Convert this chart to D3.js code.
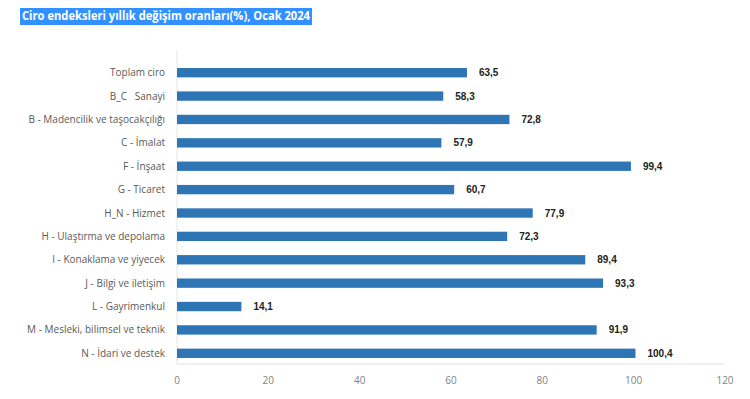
<!DOCTYPE html>
<html lang="tr">
<head>
<meta charset="utf-8">
<title>Ciro endeksleri</title>
<script src="https://d3js.org/d3.v7.min.js"></script>
<style>
  body { margin: 0; background: #fff; }
</style>
</head>
<body>
<script>
// chart size
var w = 750;
var h = 399;

var categories = [
  "Toplam ciro",
  "B_C   Sanayi",
  "B - Madencilik ve taşocakçılığı",
  "C - İmalat",
  "F - İnşaat",
  "G - Ticaret",
  "H_N - Hizmet",
  "H - Ulaştırma ve depolama",
  "I - Konaklama ve yiyecek",
  "J - Bilgi ve iletişim",
  "L - Gayrimenkul",
  "M - Mesleki, bilimsel ve teknik",
  "N - İdari ve destek"
];
var values = [63.5, 58.3, 72.8, 57.9, 99.4, 60.7, 77.9, 72.3, 89.4, 93.3, 14.1, 91.9, 100.4];
var xTicks = [0, 20, 40, 60, 80, 100, 120];
var title = "Ciro endeksleri yıllık değişim oranları(%), Ocak 2024";

var margin = {left: 177, right: 25, top: 61, bottom: 35};

var svg = d3.select("body").append("svg")
  .attr("width", w)
  .attr("height", h);

var xScale = d3.scaleLinear()
  .domain([0, 120])
  .range([margin.left, w - margin.right]);

var yScale = d3.scaleBand()
  .domain(categories)
  .range([margin.top, h - margin.bottom + 1])
  .paddingInner(0.6)
  .paddingOuter(0.3);

// title with highlight box
var titleG = svg.append("g");
titleG.append("rect")
  .attr("x", 20).attr("y", 8)
  .attr("width", 292).attr("height", 17)
  .attr("fill", "#3390ff");
titleG.append("text")
  .attr("x", 22)
  .attr("y", 20)
  .attr("font-family", "'Open Sans', sans-serif")
  .attr("font-weight", "bold")
  .attr("font-size", "12px")
  .attr("fill", "#fff")
  .attr("textLength", 288)
  .attr("lengthAdjust", "spacingAndGlyphs")
  .text(title);

// axis lines
svg.append("line")
  .attr("x1", xScale(0)).attr("x2", xScale(0))
  .attr("y1", margin.top - 10).attr("y2", h - margin.bottom)
  .attr("stroke", "#e6e6e6");
svg.append("line")
  .attr("x1", xScale(0)).attr("x2", xScale(120))
  .attr("y1", h - margin.bottom).attr("y2", h - margin.bottom)
  .attr("stroke", "#e0e0e0");

// bars
svg.selectAll("rect.bar")
  .data(values)
  .enter()
  .append("rect")
  .attr("class", "bar")
  .attr("x", xScale(0))
  .attr("y", function(d, i) { return yScale(categories[i]); })
  .attr("width", function(d) { return xScale(d) - xScale(0); })
  .attr("height", yScale.bandwidth())
  .attr("fill", "#2e75b6");

// value labels
svg.selectAll("text.val")
  .data(values)
  .enter()
  .append("text")
  .attr("class", "val")
  .attr("x", function(d) { return xScale(d) + 12; })
  .attr("y", function(d, i) { return yScale(categories[i]) + yScale.bandwidth() / 2; })
  .attr("dy", "0.35em")
  .attr("font-family", "'Liberation Sans', Arial, sans-serif")
  .attr("font-weight", "bold")
  .attr("font-size", "10px")
  .attr("fill", "#222")
  .text(function(d) { return d3.format(".1f")(d).replace(".", ","); });

// category labels
svg.selectAll("text.cat")
  .data(categories)
  .enter()
  .append("text")
  .attr("class", "cat")
  .attr("x", 165)
  .attr("y", function(d) { return yScale(d) + yScale.bandwidth() / 2; })
  .attr("dy", "0.35em")
  .attr("text-anchor", "end")
  .attr("font-family", "'Open Sans', sans-serif")
  .attr("font-size", "10px")
  .attr("fill", "#595959")
  .style("white-space", "pre")
  .text(function(d) { return d; });

// x tick labels
svg.selectAll("text.tick")
  .data(xTicks)
  .enter()
  .append("text")
  .attr("class", "tick")
  .attr("x", function(d) { return xScale(d); })
  .attr("y", 380)
  .attr("dy", "0.35em")
  .attr("text-anchor", "middle")
  .attr("font-family", "'Open Sans', sans-serif")
  .attr("font-size", "10px")
  .attr("fill", "#7f7f7f")
  .text(function(d) { return d; });
</script>
</body>
</html>
